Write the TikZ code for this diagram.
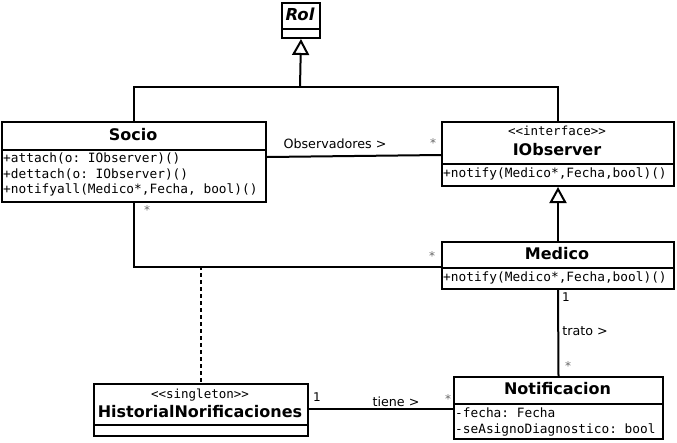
\documentclass[tikz,border=0pt]{standalone}
\usepackage{fontspec}
\setmainfont{DejaVu Sans}
\setmonofont{DejaVu Sans Mono}
\usetikzlibrary{arrows.meta}
\begin{document}
\begin{tikzpicture}[x=1pt,y=-1pt,
  cls/.style={draw, line width=2pt, fill=white, inner sep=0pt, anchor=north west},
  nm/.style={font=\fontsize{16}{16}\selectfont\bfseries, inner sep=0pt},
  st/.style={font=\fontsize{12.5}{12.5}\selectfont\ttfamily, inner sep=0pt},
  mt/.style={font=\fontsize{12.8}{12.8}\selectfont\ttfamily, inner sep=0pt, anchor=west},
  lb/.style={font=\fontsize{12.7}{12.7}\selectfont, inner sep=0pt},
  ml/.style={font=\fontsize{12}{12}\selectfont, inner sep=0pt, text=black!60},
  ml1/.style={font=\fontsize{12}{12}\selectfont, inner sep=0pt},
  ln/.style={line width=2pt},
  gen/.style={-{Triangle[open, width=17pt, length=16pt, line width=2pt]}, line width=2pt}
]
\useasboundingbox (0,0) rectangle (677,442);
% Rol
\node[cls, minimum width=38pt, minimum height=26pt] (rolN) at (281,2) {};
\node[cls, minimum width=38pt, minimum height=9pt] (rolA) at (281,28) {};
\node[nm, font=\fontsize{16.5}{16.5}\selectfont\bfseries\itshape] (rolT) at (300,14) {Rol};
% Socio
\node[cls, minimum width=264pt, minimum height=28pt] (socioN) at (1,121) {};
\node[cls, minimum width=264pt, minimum height=52pt] (socioM) at (1,149) {};
\node[nm] (socioT) at (133,135) {Socio};
\node[mt] (socio1) at (3,158) {+attach(o: IObserver)()};
\node[mt] (socio2) at (3,174) {+dettach(o: IObserver)()};
\node[mt] (socio3) at (3,190) {+notifyall(Medico*,Fecha, bool)()};
% IObserver
\node[cls, minimum width=232pt, minimum height=42pt] (iobsN) at (441,121) {};
\node[cls, minimum width=232pt, minimum height=22pt] (iobsM) at (441,163) {};
\node[st] (iobsS) at (557,131) {<<interface>>};
\node[nm] (iobsT) at (557,150) {IObserver};
\node[mt] (iobs1) at (443,174) {+notify(Medico*,Fecha,bool)()};
% Medico
\node[cls, minimum width=232pt, minimum height=26pt] (medN) at (441,241) {};
\node[cls, minimum width=232pt, minimum height=21pt] (medM) at (441,267) {};
\node[nm] (medT) at (557,254) {Medico};
\node[mt] (med1) at (443,278) {+notify(Medico*,Fecha,bool)()};
% Historial
\node[cls, minimum width=214pt, minimum height=41pt] (histN) at (93,383) {};
\node[cls, minimum width=214pt, minimum height=11pt] (histM) at (93,424) {};
\node[st] (histS) at (200,395) {<<singleton>>};
\node[nm] (histT) at (200,412) {HistorialNorificaciones};
% Notificacion
\node[cls, minimum width=209pt, minimum height=27pt] (notN) at (453,376) {};
\node[cls, minimum width=209pt, minimum height=35pt] (notM) at (453,403) {};
\node[nm] (notT) at (557.5,389) {Notificacion};
\node[mt] (not1) at (455,413) {-fecha: Fecha};
\node[mt] (not2) at (455,430) {-seAsignoDiagnostico: bool};
% generalizations
\coordinate (j) at (300,87);
\draw[ln] (socioN.north) |- (j) -| (iobsN.north);
\draw[gen] (j) -- (rolA.south);
\draw[gen] (medN.north) -- (iobsM.south);
% associations
\draw[ln] ([yshift=-8pt]socioM.north east) -- ([yshift=-34pt]iobsN.north west);
\draw[ln] (socioM.south) |- ([yshift=2pt]medN.south west);
\coordinate (d) at (201,266);
\draw[line width=1.8pt, dash pattern=on 4pt off 3pt] (d) -- (d |- histN.north);
\draw[ln] (medM.south) -- (notN.north);
\draw[ln] ([yshift=-4.5pt]histN.east) -- ([yshift=-4.5pt]histN.east -| notM.west);
% labels
\node[lb] (l1) at (335,144) {Observadores >};
\node[ml] (m1) at (433,143) {*};
\node[ml] (m2) at (147,210) {*};
\node[ml] (m3) at (432,256) {*};
\node[ml1] (m4) at (566,297) {1};
\node[lb] (l2) at (585,331) {trato >};
\node[ml] (m5) at (568,366) {*};
\node[ml1] (m6) at (317,397) {1};
\node[lb] (l3) at (396,402) {tiene >};
\node[ml] (m7) at (448,399) {*};
\end{tikzpicture}
\end{document}
